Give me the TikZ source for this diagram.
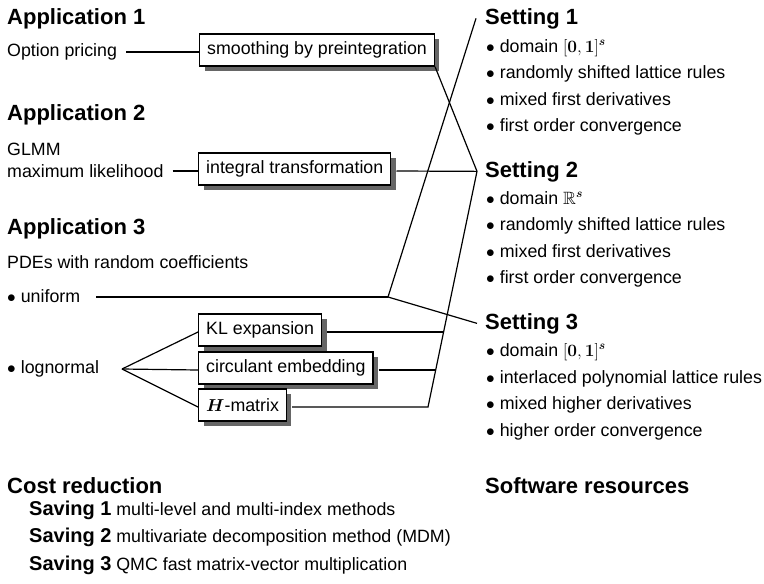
\documentclass[tikz,border=0pt]{standalone}
\usepackage{amsmath,amssymb}
\usepackage[no-math]{fontspec}
\setmainfont{Liberation Sans}
\usetikzlibrary{shadows,calc}

\tikzset{
  head/.style={anchor=base west, inner sep=0pt, font=\fontsize{22}{26}\selectfont\bfseries},
  txt/.style={anchor=base west, inner sep=0pt, font=\fontsize{17.8}{22}\selectfont},
  txtw/.style={txt, anchor=west},
  method/.style={draw, line width=1.4pt, fill=white, anchor=west,
    inner xsep=7.5pt, inner ysep=0pt, minimum height=32pt,
    font=\fontsize{17.8}{22}\selectfont,
    drop shadow={shadow xshift=5pt, shadow yshift=-5pt, fill=black!60, opacity=1}},
  link/.style={line width=1.2pt},
}
\newcommand{\bul}{$\bullet$\hspace{5pt}}
\newcommand{\savehead}[1]{{\fontsize{20}{24}\selectfont\bfseries #1}}

\begin{document}
\begin{tikzpicture}[x=1pt,y=-1pt]
\useasboundingbox (0,0) rectangle (764,584);

% ---------- applications ----------
\node[head] (app1) at (7,24) {Application 1};
\node[txtw] (opt) at (7,52) {Option pricing};
\node[method] (smooth) at (199,50) {smoothing by preintegration};

\node[head] (app2) at (7,120) {Application 2};
\node[txt] (glmm) at (7,155) {GLMM};
\node[txtw] (mlik) at (7,171) {maximum likelihood};
\node[method] (integ) at (198,169) {integral transformation};

\node[head] (app3) at (7,234) {Application 3};
\node[txt] (pde) at (7,268) {PDEs with random coefficients};
\node[txt] (uni) at (7,302) {\bul uniform};
\node[txt] (logn) at (7,373) {\bul lognormal};

\node[method] (kl) at (198,330) {KL expansion};
\node[method] (circ) at (198,368) {circulant embedding};
\node[method] (hmat) at (198,405) {$\boldsymbol{H}$-matrix};

% ---------- settings ----------
\node[head] (set1) at (485,24) {Setting 1};
\node[txt] (s1a) at (486,52) {\bul domain $[\mathbf{0},\mathbf{1}]^{\boldsymbol{s}}$};
\node[txt] (s1b) at (486,78.5) {\bul randomly shifted lattice rules};
\node[txt] (s1c) at (486,105) {\bul mixed first derivatives};
\node[txt] (s1d) at (486,131) {\bul first order convergence};

\node[head] (set2) at (485,177) {Setting 2};
\node[txt] (s2a) at (486,204) {\bul domain $\mathbb{R}^{\boldsymbol{s}}$};
\node[txt] (s2b) at (486,230.5) {\bul randomly shifted lattice rules};
\node[txt] (s2c) at (486,257) {\bul mixed first derivatives};
\node[txt] (s2d) at (486,283) {\bul first order convergence};

\node[head] (set3) at (485,329) {Setting 3};
\node[txt] (s3a) at (486,356) {\bul domain $[\mathbf{0},\mathbf{1}]^{\boldsymbol{s}}$};
\node[txt] (s3b) at (486,383) {\bul interlaced polynomial lattice rules};
\node[txt] (s3c) at (486,409) {\bul mixed higher derivatives};
\node[txt] (s3d) at (486,436) {\bul higher order convergence};

% ---------- bottom ----------
\node[head] (cost) at (7,493) {Cost reduction};
\node[head] (soft) at (485,493) {Software resources};
\node[txt] (sv1) at (29,515) {\savehead{Saving 1} multi-level and multi-index methods};
\node[txt] (sv2) at (29,542) {\savehead{Saving 2} multivariate decomposition method (MDM)};
\node[txt] (sv3) at (29,570) {\savehead{Saving 3} QMC fast matrix-vector multiplication};

% ---------- junction points ----------
\coordinate (uj) at (388,297);
\coordinate (fan) at (122,369);
\coordinate (bt) at ([xshift=-8pt]set2.west);
\coordinate (hb) at (428,407);
\coordinate (klend) at ($(hb)!0.319!(bt)$);
\coordinate (ceend) at ($(hb)!0.157!(bt)$);
\coordinate (kls) at ([xshift=5pt,yshift=-2pt]kl.east);
\coordinate (ces) at ([xshift=5pt,yshift=-2pt]circ.east);
\coordinate (hms) at ([xshift=5pt,yshift=-2pt]hmat.east);

% ---------- connectors ----------
\draw[link] ([xshift=9pt]opt.east) -- ([yshift=-2pt]smooth.west);
\draw[link] ([xshift=9pt]mlik.east) -- ([yshift=-2pt]integ.west);
\draw[link] ([xshift=16pt]uni.east |- uj) -- (uj);

\draw[link] (smooth.south east) -- ([xshift=-8pt]set2.west);
\draw[link] ([xshift=5pt,yshift=-2pt]integ.east) -- ([xshift=-8pt]set2.west);
\draw[link] (uj) -- ([xshift=-9pt]set1.west);
\draw[link] (uj) -- ([xshift=-8pt]set3.west);

\draw[link] (fan) -- ([yshift=-2pt]kl.west);
\draw[link] (fan) -- ([yshift=-2pt]circ.west);
\draw[link] (fan) -- ([yshift=-2pt]hmat.west);

\draw[link] (kls) -- (kls -| klend);
\draw[link] (ces) -- (ces -| ceend);
\draw[link] (hms) -- (hb) -- (bt);
\end{tikzpicture}
\end{document}
